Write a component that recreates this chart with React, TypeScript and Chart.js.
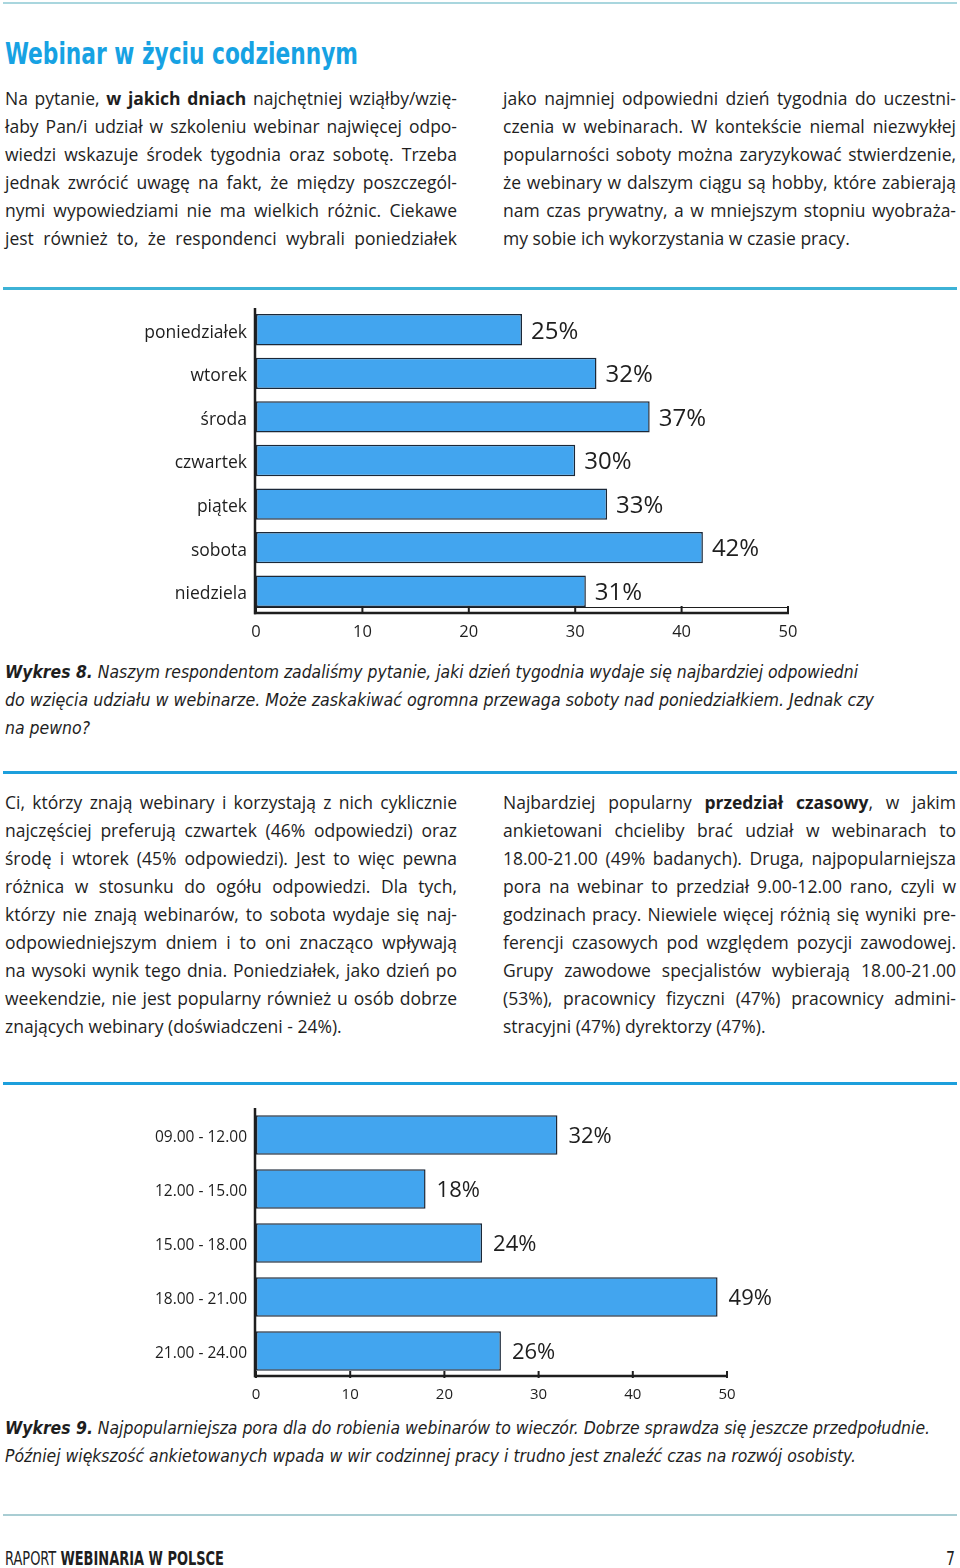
import React, { useEffect, useLayoutEffect, useRef, useState } from "react";
import { Chart, registerables } from "chart.js";
Chart.register(...registerables);

// ---------- data ----------
const dayLabels = ["poniedziałek", "wtorek", "środa", "czwartek", "piątek", "sobota", "niedziela"];
const dayValues = [25, 32, 37, 30, 33, 42, 31];
const hourLabels = ["09.00 - 12.00", "12.00 - 15.00", "15.00 - 18.00", "18.00 - 21.00", "21.00 - 24.00"];
const hourValues = [32, 18, 24, 49, 26];
const axisTicks = [0, 10, 20, 30, 40, 50];

const titleText = "Webinar w życiu codziennym";
const introLeft = [
  "Na pytanie, **w jakich dniach** najchętniej wziąłby/wzię-",
  "łaby Pan/i udział w szkoleniu webinar najwięcej odpo-",
  "wiedzi wskazuje środek tygodnia oraz sobotę. Trzeba",
  "jednak zwrócić uwagę na fakt, że między poszczegól-",
  "nymi wypowiedziami nie ma wielkich różnic. Ciekawe",
  "jest również to, że respondenci wybrali poniedziałek",
];
const introRight = [
  "jako najmniej odpowiedni dzień tygodnia do uczestni-",
  "czenia w webinarach. W kontekście niemal niezwykłej",
  "popularności soboty można zaryzykować stwierdzenie,",
  "że webinary w dalszym ciągu są hobby, które zabierają",
  "nam czas prywatny, a w mniejszym stopniu wyobraża-",
  "my sobie ich wykorzystania w czasie pracy.",
];
const caption8 = [
  "**Wykres 8.** Naszym respondentom zadaliśmy pytanie, jaki dzień tygodnia wydaje się najbardziej odpowiedni",
  "do wzięcia udziału w webinarze. Może zaskakiwać ogromna przewaga soboty nad poniedziałkiem. Jednak czy",
  "na pewno?",
];
const midLeft = [
  "Ci, którzy znają webinary i korzystają z nich cyklicznie",
  "najczęściej preferują czwartek (46% odpowiedzi) oraz",
  "środę i wtorek (45% odpowiedzi). Jest to więc pewna",
  "różnica w stosunku do ogółu odpowiedzi. Dla tych,",
  "którzy nie znają webinarów, to sobota wydaje się naj-",
  "odpowiedniejszym dniem i to oni znacząco wpływają",
  "na wysoki wynik tego dnia. Poniedziałek, jako dzień po",
  "weekendzie, nie jest popularny również u osób dobrze",
  "znających webinary (doświadczeni - 24%).",
];
const midRight = [
  "Najbardziej popularny **przedział czasowy**, w jakim",
  "ankietowani chcieliby brać udział w webinarach to",
  "18.00-21.00 (49% badanych). Druga, najpopularniejsza",
  "pora na webinar to przedział 9.00-12.00 rano, czyli w",
  "godzinach pracy. Niewiele więcej różnią się wyniki pre-",
  "ferencji czasowych pod względem pozycji zawodowej.",
  "Grupy zawodowe specjalistów wybierają 18.00-21.00",
  "(53%), pracownicy fizyczni (47%) pracownicy admini-",
  "stracyjni (47%) dyrektorzy (47%).",
];
const caption9 = [
  "**Wykres 9.** Najpopularniejsza pora dla do robienia webinarów to wieczór. Dobrze sprawdza się jeszcze przedpołudnie.",
  "Później większość ankietowanych wpada w wir codzinnej pracy i trudno jest znaleźć czas na rozwój osobisty.",
];
const footerText = "RAPORT **WEBINARIA W POLSCE**";
const pageNumber = "7";

// ---------- styles ----------
const INK = "#1e1e1e";
const TITLE_BLUE = "#17a2e3";
const BAR_FILL = "#42a5ef";
const BAR_EDGE = "#1b2838";
const SANS = "'Open Sans', 'Noto Sans', sans-serif";
const NARROW = "'Liberation Sans Narrow', 'DejaVu Sans Condensed', sans-serif";

type Part = { t: string; b: boolean };
function parse(s: string): Part[] {
  const out: Part[] = [];
  s.split("**").forEach((t, i) => {
    if (t) out.push({ t, b: i % 2 === 1 });
  });
  return out;
}

type Mode = "justify" | "left" | "fit";
function TextLine(props: {
  x: number; y: number; w: number; text: string; mode: Mode;
  font: string; size: number; lh: number; color?: string; italic?: boolean;
  weight?: number; boldWeight?: number; tick: number;
}) {
  const ref = useRef<HTMLDivElement>(null);
  useLayoutEffect(() => {
    const el = ref.current;
    if (!el) return;
    el.style.wordSpacing = "0px";
    el.style.transform = "none";
    const nat = el.getBoundingClientRect().width;
    if (!nat) return;
    const spaces = (props.text.replace(/\*\*/g, "").match(/ /g) || []).length;
    if (props.mode === "fit") {
      el.style.transform = `scaleX(${props.w / nat})`;
    } else if (nat > props.w) {
      el.style.transform = `scaleX(${props.w / nat})`;
    } else if (props.mode === "justify" && spaces > 0) {
      el.style.wordSpacing = `${(props.w - nat) / spaces}px`;
    }
  });
  const parts = parse(props.text);
  return (
    <div
      ref={ref}
      style={{
        position: "absolute",
        left: props.x,
        top: props.y,
        display: "inline-block",
        whiteSpace: "pre",
        fontFamily: props.font,
        fontSize: props.size,
        lineHeight: `${props.lh}px`,
        color: props.color || INK,
        fontStyle: props.italic ? "italic" : "normal",
        fontWeight: props.weight || 400,
        transformOrigin: "left center",
      }}
    >
      {parts.map((p, i) => (
        <span key={i} style={{ fontWeight: p.b ? props.boldWeight || 700 : undefined }}>{p.t}</span>
      ))}
    </div>
  );
}

function BarChart(props: {
  labels: string[]; values: number[];
  left: number; top: number; width: number; height: number;
  area: { top: number; bottom: number; left: number; right: number };
  catSize: number; catPad: number; catShift: number; tickSize: number; valSize: number; valGap: number;
  barPct: number; tickPad: number; axisDy: number; thinLine: boolean;
  tickUp: number; tickDown: number;
}) {
  const ref = useRef<HTMLCanvasElement>(null);
  useEffect(() => {
    const canvas = ref.current;
    if (!canvas) return;
    const p = props;
    const axisPlugin = {
      id: "customAxes",
      afterDatasetsDraw(chart: any) {
        const { ctx, chartArea: a, scales } = chart;
        const xs = scales.x;
        const yAx = a.bottom + p.axisDy;
        const xEnd = xs.getPixelForValue(axisTicks[axisTicks.length - 1]);
        ctx.save();
        ctx.strokeStyle = INK;
        ctx.lineCap = "butt";
        ctx.lineWidth = 2.5;
        ctx.beginPath();
        ctx.moveTo(a.left - 1, a.top);
        ctx.lineTo(a.left - 1, yAx + 1.25);
        ctx.stroke();
        ctx.beginPath();
        ctx.moveTo(a.left - 2, yAx);
        ctx.lineTo(xEnd + 1, yAx);
        ctx.stroke();
        if (p.thinLine) {
          ctx.lineWidth = 1;
          ctx.beginPath();
          ctx.moveTo(a.left, yAx - 5.5);
          ctx.lineTo(xEnd, yAx - 5.5);
          ctx.stroke();
        }
        ctx.lineWidth = 2;
        axisTicks.forEach((v) => {
          const px = xs.getPixelForValue(v);
          ctx.beginPath();
          ctx.moveTo(px, yAx - p.tickUp);
          ctx.lineTo(px, yAx + p.tickDown);
          ctx.stroke();
        });
        const meta = chart.getDatasetMeta(0);
        ctx.fillStyle = INK;
        ctx.font = `${p.valSize}px ${SANS}`;
        ctx.textAlign = "left";
        ctx.textBaseline = "middle";
        meta.data.forEach((bar: any, i: number) => {
          ctx.fillText(`${p.values[i]}%`, bar.x + p.valGap, bar.y + 2);
        });
        ctx.restore();
      },
    };
    const chart = new Chart(canvas, {
      type: "bar",
      data: {
        labels: p.labels,
        datasets: [
          {
            data: p.values,
            backgroundColor: BAR_FILL,
            borderColor: BAR_EDGE,
            borderWidth: 1.5,
            borderSkipped: false,
            categoryPercentage: 1,
            barPercentage: p.barPct,
          },
        ],
      },
      options: {
        indexAxis: "y",
        responsive: false,
        animation: false,
        devicePixelRatio: 1,
        layout: { padding: { top: p.area.top, right: p.width - p.area.right, left: 0, bottom: 0 } },
        plugins: { legend: { display: false }, tooltip: { enabled: false } },
        scales: {
          y: {
            type: "category",
            grid: { display: false },
            border: { display: false },
            ticks: {
              color: INK,
              font: { family: SANS, size: p.catSize },
              padding: p.catPad,
              labelOffset: p.catShift,
            },
            afterFit: (s: any) => {
              s.width = p.area.left;
              s.paddingTop = 0;
              s.paddingBottom = 0;
            },
          },
          x: {
            type: "linear",
            min: axisTicks[0],
            max: axisTicks[axisTicks.length - 1],
            grid: { display: false },
            border: { display: false },
            ticks: { stepSize: 10, color: INK, font: { family: SANS, size: p.tickSize }, padding: p.tickPad },
            afterFit: (s: any) => {
              s.height = p.height - p.area.bottom;
              s.paddingLeft = 0;
            },
          },
        },
      },
      plugins: [axisPlugin],
    } as any);
    return () => chart.destroy();
  }, []);
  return (
    <canvas
      ref={ref}
      width={props.width}
      height={props.height}
      style={{ position: "absolute", left: props.left, top: props.top, width: props.width, height: props.height }}
    />
  );
}

export default function App() {
  const [tick, setTick] = useState(0);
  useEffect(() => {
    document.fonts && document.fonts.ready.then(() => setTick((t) => t + 1));
  }, []);

  const body = (lines: string[], x: number, top: number, w: number, lastLeft: boolean) =>
    lines.map((l, i) => (
      <TextLine
        key={x + "-" + top + "-" + i}
        x={x} y={top + i * 28} w={w} text={l}
        mode={lastLeft && i === lines.length - 1 ? "left" : "justify"}
        font={SANS} size={17.5} lh={28} tick={tick}
      />
    ));

  const rule = (top: number, h: number, color: string) => (
    <div style={{ position: "absolute", left: 3, top, width: 954, height: h, background: color }} />
  );

  return (
    <div style={{ position: "absolute", left: 0, top: 0, width: 960, height: 1568, overflow: "hidden", background: "#fff" }}>
      {rule(2, 2, "#a9d6de")}
      <TextLine x={5} y={33} w={353} text={titleText} mode="fit" font={NARROW} size={31} lh={40}
        weight={700} color={TITLE_BLUE} tick={tick} />
      {body(introLeft, 5, 84, 452, false)}
      {body(introRight, 503, 84, 453, true)}
      {rule(287, 3, "#3db2d6")}

      <BarChart
        labels={dayLabels} values={dayValues}
        left={0} top={300} width={820} height={345}
        area={{ top: 8, bottom: 313, left: 256, right: 788 }}
        catSize={17.5} catPad={1} catShift={3} tickSize={16.5} valSize={24} valGap={9} barPct={0.72}
        tickPad={1} axisDy={0} thinLine={true} tickUp={7} tickDown={1}
      />

      <TextLine x={5} y={658} w={853} text={caption8[0]} mode="fit" font={NARROW} size={18} lh={28} italic tick={tick} />
      <TextLine x={5} y={686} w={869} text={caption8[1]} mode="fit" font={NARROW} size={18} lh={28} italic tick={tick} />
      <TextLine x={5} y={714} w={85} text={caption8[2]} mode="fit" font={NARROW} size={18} lh={28} italic tick={tick} />

      {rule(771, 3, "#1c9fdc")}
      {body(midLeft, 5, 788, 452, true)}
      {body(midRight, 503, 788, 453, true)}
      {rule(1082, 3, "#1c9fdc")}

      <BarChart
        labels={hourLabels} values={hourValues}
        left={0} top={1100} width={800} height={310}
        area={{ top: 8, bottom: 278, left: 256, right: 727 }}
        catSize={15.5} catPad={1} catShift={3} tickSize={15} valSize={22} valGap={11} barPct={0.73}
        tickPad={0} axisDy={-2} thinLine={false} tickUp={5} tickDown={2}
      />

      <TextLine x={5} y={1414} w={925} text={caption9[0]} mode="fit" font={NARROW} size={18} lh={28} italic tick={tick} />
      <TextLine x={5} y={1442} w={851} text={caption9[1]} mode="fit" font={NARROW} size={18} lh={28} italic tick={tick} />

      {rule(1514, 2, "#a9cdd3")}
      <TextLine x={5} y={1544} w={219} text={footerText} mode="fit" font={NARROW} size={19} lh={28} tick={tick} />
      <TextLine x={946} y={1544} w={9} text={pageNumber} mode="left" font={NARROW} size={19} lh={28} tick={tick} />
    </div>
  );
}
